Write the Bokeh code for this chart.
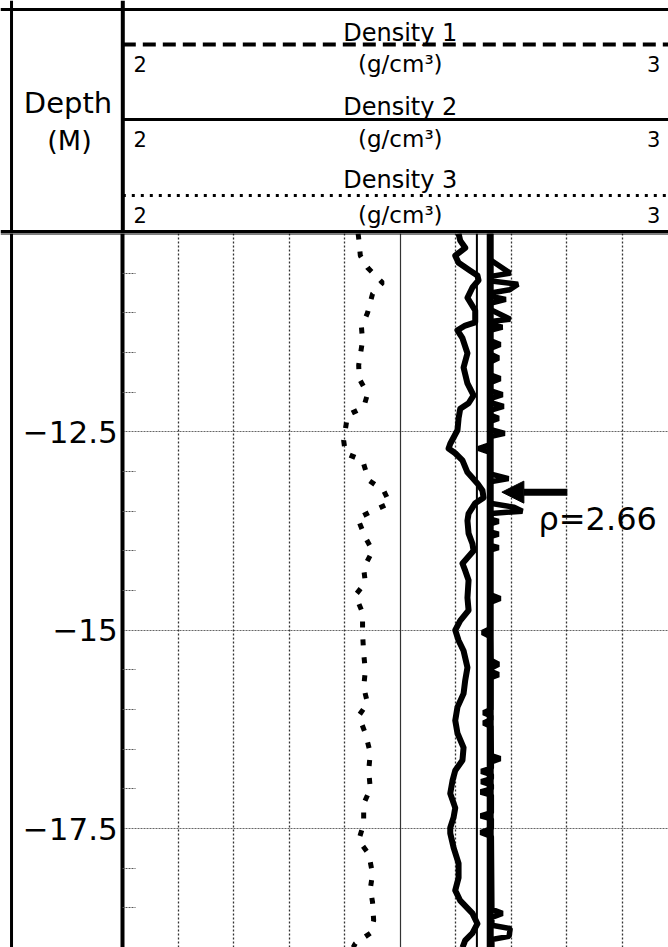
from bokeh.plotting import figure
from bokeh.models import Range1d, LinearAxis, FixedTicker, Grid, Span, Arrow, NormalHead, Label
from bokeh.layouts import column
from bokeh.core.properties import value
from bokeh.embed import file_html
from bokeh.resources import INLINE

# ---------------- data ----------------
series_names = ["Density 1", "Density 2", "Density 3"]
unit_label = "(g/cm³)"
scale_min, scale_max = 2, 3
depth_title = "Depth"
depth_unit = "(M)"

depth_ticks = [-12.5, -15.0, -17.5]
depth_tick_labels = ["−12.5", "−15", "−17.5"]
minor_depth_ticks = [-10.5, -11.0, -11.5, -12.0, -13.0, -13.5, -14.0, -14.5,
                     -15.5, -16.0, -16.5, -17.0, -18.0, -18.5]
rho_grid_dotted = [2.1, 2.2, 2.3, 2.4, 2.6, 2.7, 2.8, 2.9]
rho_grid_solid = [2.5]

density1_depth = [-10.00, -10.33, -10.50, -10.54, -10.60, -10.64, -10.71, -10.75, -10.79, -10.83,
                  -10.88, -10.96, -11.08, -11.11, -11.15, -11.18, -11.22, -11.35, -11.40, -11.45,
                  -11.52, -11.57, -11.62, -11.78, -11.83, -11.88, -11.98, -12.03, -12.08, -12.13,
                  -12.18, -12.23, -12.29, -12.33, -12.37, -12.47, -12.52, -12.56, -12.66, -12.71,
                  -12.76, -13.03, -13.09, -13.13, -13.40, -13.45, -13.50, -13.53, -13.60, -13.63,
                  -13.66, -13.76, -13.79, -13.82, -13.93, -13.96, -13.99, -14.55, -14.60, -14.65,
                  -14.98, -15.03, -15.08, -15.38, -15.43, -15.48, -15.52, -15.56, -15.60, -16.00,
                  -16.04, -16.08, -16.13, -16.17, -16.21, -16.58, -16.62, -16.66, -16.74, -16.78,
                  -16.82, -16.87, -16.91, -16.95, -17.00, -17.04, -17.08, -17.30, -17.34, -17.38,
                  -17.50, -17.55, -17.60, -18.52, -18.57, -18.62, -18.72, -18.76, -18.86, -18.90,
                  -19.00]
density1_rho = [2.662, 2.662, 2.698, 2.663, 2.664, 2.712, 2.697, 2.663, 2.662, 2.690,
                2.662, 2.663, 2.698, 2.663, 2.662, 2.684, 2.662, 2.662, 2.680, 2.662,
                2.662, 2.677, 2.662, 2.662, 2.680, 2.662, 2.662, 2.684, 2.662, 2.662,
                2.686, 2.662, 2.662, 2.677, 2.662, 2.662, 2.688, 2.662, 2.662, 2.641,
                2.662, 2.662, 2.695, 2.662, 2.662, 2.705, 2.720, 2.664, 2.662, 2.677,
                2.662, 2.662, 2.677, 2.662, 2.662, 2.677, 2.662, 2.662, 2.680, 2.662,
                2.662, 2.648, 2.662, 2.663, 2.677, 2.663, 2.663, 2.677, 2.663, 2.663,
                2.650, 2.663, 2.663, 2.650, 2.663, 2.664, 2.680, 2.664, 2.664, 2.646,
                2.664, 2.664, 2.646, 2.664, 2.664, 2.645, 2.664, 2.664, 2.645, 2.664,
                2.664, 2.645, 2.664, 2.665, 2.684, 2.665, 2.665, 2.698, 2.696, 2.665,
                2.665]

density2_depth = [-10.00, -10.09, -10.18, -10.28, -10.37, -10.47, -10.53, -10.59, -10.68, -10.81,
                  -10.97, -11.12, -11.16, -11.22, -11.32, -11.51, -11.69, -11.89, -12.04, -12.14,
                  -12.21, -12.33, -12.48, -12.65, -12.71, -12.77, -12.86, -13.01, -13.15, -13.24,
                  -13.33, -13.40, -13.53, -13.62, -13.78, -13.91, -14.00, -14.16, -14.25, -14.37,
                  -14.59, -14.75, -14.88, -15.00, -15.13, -15.26, -15.47, -15.63, -15.80, -15.97,
                  -16.14, -16.30, -16.48, -16.64, -16.77, -16.90, -17.06, -17.24, -17.36, -17.49,
                  -17.56, -17.74, -17.94, -18.12, -18.28, -18.41, -18.57, -18.70, -18.82, -18.91,
                  -19.00]
density2_rho = [2.605, 2.608, 2.617, 2.599, 2.605, 2.626, 2.639, 2.641, 2.630, 2.621,
                2.635, 2.635, 2.617, 2.603, 2.612, 2.621, 2.614, 2.621, 2.632, 2.623,
                2.608, 2.605, 2.603, 2.590, 2.587, 2.599, 2.612, 2.621, 2.639, 2.648,
                2.650, 2.635, 2.623, 2.621, 2.623, 2.630, 2.632, 2.612, 2.617, 2.623,
                2.621, 2.623, 2.608, 2.599, 2.605, 2.614, 2.621, 2.617, 2.614, 2.603,
                2.599, 2.603, 2.614, 2.612, 2.599, 2.594, 2.590, 2.599, 2.596, 2.590,
                2.590, 2.596, 2.605, 2.605, 2.599, 2.608, 2.630, 2.639, 2.630, 2.617,
                2.612]

density3_depth = [-10.00, -10.06, -10.28, -10.43, -10.62, -10.76, -11.00, -11.18, -11.35, -11.66,
                  -11.83, -12.02, -12.19, -12.29, -12.61, -12.77, -12.86, -13.11, -13.24, -13.40,
                  -13.49, -13.59, -13.83, -14.00, -14.22, -14.40, -14.56, -14.78, -15.04, -15.29,
                  -15.51, -15.72, -15.92, -16.08, -16.30, -16.55, -16.77, -17.00, -17.19, -17.44,
                  -17.65, -17.82, -18.07, -18.26, -18.43, -18.66, -18.82, -18.95, -19.00]
density3_rho = [2.424, 2.425, 2.428, 2.441, 2.468, 2.450, 2.441, 2.430, 2.432, 2.425,
                2.426, 2.441, 2.434, 2.405, 2.398, 2.401, 2.432, 2.443, 2.470, 2.481,
                2.452, 2.423, 2.437, 2.450, 2.434, 2.437, 2.419, 2.432, 2.432, 2.434,
                2.437, 2.434, 2.441, 2.425, 2.437, 2.446, 2.443, 2.446, 2.434, 2.434,
                2.425, 2.443, 2.450, 2.446, 2.450, 2.452, 2.446, 2.419, 2.415]

trend_rho = 2.662      # thick trend line of Density 1
ref_rho = 2.638        # thin reference line
annot_text = "ρ=2.66"
annot_depth = -13.26

# ---------------- layout constants ----------------
FONT = "DejaVu Sans"
X_RANGE = (1.77964, 2.98324)   # depth column + density track (555 px per g/cm3)
DEPTH_RANGE = (-19.0, -10.0)
W = 668
HEADER_H = 233
MAIN_H = 714
LEFT_EDGE = 1.7995

# ---------------- header ----------------
hdr = figure(width=W, height=HEADER_H, x_range=Range1d(*X_RANGE), y_range=Range1d(HEADER_H, 0),
             x_axis_type=None, y_axis_type=None, output_backend="svg", toolbar_location=None,
             min_border=0, outline_line_color=None)
hdr.add_layout(Span(location=9, dimension="width", line_color="black", line_width=3))
hdr.add_layout(Span(location=HEADER_H - 1.5, dimension="width", line_color="black", line_width=4))
hdr.add_layout(Span(location=LEFT_EDGE, dimension="height", line_color="black", line_width=3))
hdr.add_layout(Span(location=scale_min, dimension="height", line_color="black", line_width=4))

row_line_y = [44, 119, 195]
row_name_y = [32, 106, 179]
row_num_y = [63, 138, 214]
line_styles = [dict(line_dash="13 7", line_width=4),
               dict(line_dash="solid", line_width=3),
               dict(line_dash="3 6", line_width=3)]
for yl, st in zip(row_line_y, line_styles):
    hdr.segment(x0=[scale_min], x1=[X_RANGE[1]], y0=[yl], y1=[yl], line_color="black", **st)

mid = (scale_min + scale_max) / 2
txt = dict(text_font=value(FONT), text_baseline="middle", text_color="black")
hdr.text(x=[mid] * 3, y=row_name_y, text=series_names,
         text_font_size=value("24px"), text_align="center", **txt)
hdr.text(x=[mid] * 3, y=row_num_y, text=[unit_label] * 3,
         text_font_size=value("23px"), text_align="center", **txt)
hdr.text(x=[scale_min + 0.0193] * 3, y=row_num_y, text=[str(scale_min)] * 3,
         text_font_size=value("21px"), text_align="left", **txt)
hdr.text(x=[scale_max - 0.0312] * 3, y=row_num_y, text=[str(scale_max)] * 3,
         text_font_size=value("21px"), text_align="right", **txt)
hdr.text(x=[1.9013], y=[102], text=[depth_title],
         text_font_size=value("29px"), text_align="center", **txt)
hdr.text(x=[1.904], y=[140], text=[depth_unit],
         text_font_size=value("27px"), text_align="center", **txt)

# ---------------- main track ----------------
p = figure(width=W, height=MAIN_H, x_range=Range1d(*X_RANGE), y_range=Range1d(*DEPTH_RANGE),
           x_axis_type=None, y_axis_type=None, output_backend="svg", toolbar_location=None,
           min_border=0, outline_line_color=None)

yaxis = LinearAxis(fixed_location=scale_min,
                   ticker=FixedTicker(ticks=depth_ticks, minor_ticks=minor_depth_ticks),
                   major_label_overrides=dict(zip(depth_ticks, depth_tick_labels)))
yaxis.axis_line_width = 4
yaxis.axis_line_color = "black"
yaxis.major_tick_line_color = None
yaxis.major_tick_in = 0
yaxis.major_tick_out = 0
yaxis.minor_tick_in = 13
yaxis.minor_tick_out = 0
yaxis.minor_tick_line_color = "#555555"
yaxis.minor_tick_line_width = 1
yaxis.minor_tick_line_dash = "2 1"
yaxis.major_label_text_font = FONT
yaxis.major_label_text_font_size = "31px"
yaxis.major_label_text_color = "black"
yaxis.major_label_standoff = 5
p.add_layout(yaxis, "left")

ygrid_kwargs = dict(dimension=1, ticker=FixedTicker(ticks=depth_ticks),
                    grid_line_color="#666666", grid_line_dash="2 1", grid_line_width=1)
try:
    ygrid = Grid(cross_bounds=(scale_min, scale_max), **ygrid_kwargs)
    p.add_layout(ygrid)
except Exception:
    p.segment(x0=[scale_min] * 3, x1=[scale_max] * 3, y0=depth_ticks, y1=depth_ticks,
              line_color="#666666", line_dash="2 1", line_width=1)

p.add_layout(Grid(dimension=0, ticker=FixedTicker(ticks=rho_grid_dotted),
                  grid_line_color="#333333", grid_line_dash="2 2", grid_line_width=1.3))
p.add_layout(Grid(dimension=0, ticker=FixedTicker(ticks=rho_grid_solid),
                  grid_line_color="#333333", grid_line_width=1.2))

p.add_layout(Span(location=LEFT_EDGE, dimension="height", line_color="black", line_width=3))
p.add_layout(Span(location=DEPTH_RANGE[1], dimension="width", line_color="black", line_width=2))

# Density 3 (dotted)
p.line(density3_rho, density3_depth, line_color="black", line_width=5, line_dash="6 12")
# Density 2 (solid)
p.line(density2_rho, density2_depth, line_color="black", line_width=6, line_join="round")
# reference & trend lines
p.add_layout(Span(location=ref_rho, dimension="height", line_color="black", line_width=2))
p.add_layout(Span(location=trend_rho, dimension="height", line_color="black", line_width=7))
# Density 1 (drawn dense: dashes merge into a continuous trace)
p.line(density1_rho, density1_depth, line_color="black", line_width=5.5)

p.add_layout(Arrow(end=NormalHead(size=22, fill_color="black", line_color="black"),
                   x_start=2.801, y_start=annot_depth, x_end=2.683, y_end=annot_depth,
                   line_color="black", line_width=7))
p.add_layout(Label(x=2.749, y=-13.605, text=annot_text, text_font=FONT,
                   text_font_size="32px", text_color="black", text_baseline="middle"))

layout = column(hdr, p)
open("out.html", "w").write(file_html(layout, INLINE))
